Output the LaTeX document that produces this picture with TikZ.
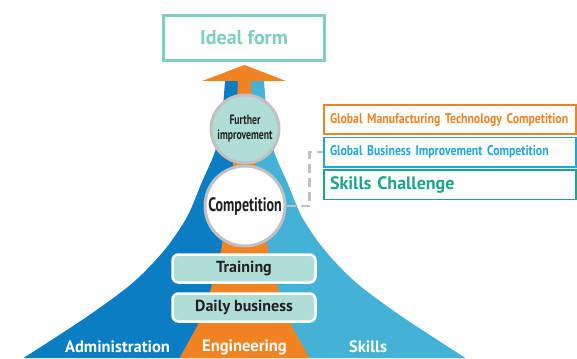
\documentclass[tikz,border=0pt]{standalone}
\usepackage{fontspec}
\setmainfont{PT Sans}
\newfontfamily\narrowfont[FakeStretch=0.84,WordSpace=0.75]{PT Sans}
\newfontfamily\tightfont[FakeStretch=0.72]{PT Sans}
\usetikzlibrary{positioning}
\definecolor{AdminBlue}{HTML}{0B7EC3}
\definecolor{SkillBlue}{HTML}{43B2D6}
\definecolor{EngOrange}{HTML}{F28322}
\definecolor{PaleTeal}{HTML}{B0DED6}
\definecolor{SoftTeal}{HTML}{7ECEC1}
\definecolor{DeepTeal}{HTML}{1BA58B}
\definecolor{BrightBlue}{HTML}{1EA6E0}
\definecolor{RingGray}{HTML}{C1C1C3}
\definecolor{InkDark}{HTML}{231F20}

\begin{document}
\begin{tikzpicture}[x=1pt,y=-1pt,
  pillar/.style={text=white,font=\bfseries\fontsize{16.5}{16.5}\selectfont},
  rung/.style={draw=white,line width=2.5pt,rounded corners=6pt,fill=PaleTeal,minimum width=143pt,minimum height=28pt,text=InkDark,font=\bfseries\fontsize{16}{16}\selectfont},
  ring/.style={circle,draw=RingGray,line width=3pt,inner sep=0pt,text=InkDark},
  event/.style={draw,fill=white,line width=1.6pt,minimum height=29.5pt,text width=240pt,align=left,inner xsep=6pt}]
\useasboundingbox (0,0) rectangle (577,358);

% the three flanks
\fill[AdminBlue] plot[smooth] coordinates {(225,81) (222,115) (215.5,150) (201.5,183) (187,217) (164.5,250) (132.5,283) (86.5,317) (23.5,358)}
  -- (244.5,358) -- (244.5,81) -- cycle;
\fill[SkillBlue] plot[smooth] coordinates {(264,81) (267,115) (273.5,150) (287.5,183) (302,217) (324.5,250) (356.5,283) (402.5,317) (465.5,358)}
  -- (244.5,358) -- (244.5,81) -- cycle;
\fill[EngOrange] plot[smooth] coordinates {(238,81) (235.5,130) (232.5,170) (221.5,248) (210.5,290) (198.5,323) (179.5,358)}
  -- plot[smooth] coordinates {(309.5,358) (290.5,323) (278.5,290) (267.5,248) (256.5,170) (253.5,130) (251,81)} -- cycle;
\fill[EngOrange] (202,81) -- (244.5,65) -- (286,81) -- cycle;

\node[draw=SoftTeal,line width=3pt,fill=white,minimum width=161pt,minimum height=45pt,text=SoftTeal,font=\bfseries\fontsize{20}{20}\selectfont] (ideal) at (244,38) {Ideal form};

\node[ring,fill=PaleTeal,minimum size=68pt,align=center,font=\tightfont\bfseries\fontsize{13.5}{15}\selectfont] (further) at (245,129) {Further\\improvement};
\node[ring,fill=white,minimum size=80pt,font=\tightfont\bfseries\fontsize{19.5}{19.5}\selectfont] (comp) at (245,206) {Competition};

\node[rung] (training) at (244,268.5) {Training};
\node[rung] (daily) at (244,307.5) {Daily business};

\node[pillar] (admin) at (117.5,347) {Administration};
\node[pillar] (eng) at (244.5,347) {Engineering};
\node[pillar] (skills) at (368,347) {Skills};

\node[event,draw=EngOrange,text=EngOrange,font=\narrowfont\bfseries\fontsize{14}{14}\selectfont] (gmtc) at (450,119.5) {Global Manufacturing Technology Competition};
\node[event,draw=BrightBlue,text=BrightBlue,font=\narrowfont\bfseries\fontsize{14}{14}\selectfont,below=1.5pt of gmtc] (gbic) {Global Business Improvement Competition};
\node[event,draw=DeepTeal,text=DeepTeal,font=\bfseries\fontsize{18}{18}\selectfont,below=1.5pt of gbic] (challenge) {Skills Challenge};

\draw[RingGray,line width=2.5pt,dash pattern=on 9pt off 5pt] (comp.east) -- ++(23,0) |- (gbic.west);
\end{tikzpicture}
\end{document}
